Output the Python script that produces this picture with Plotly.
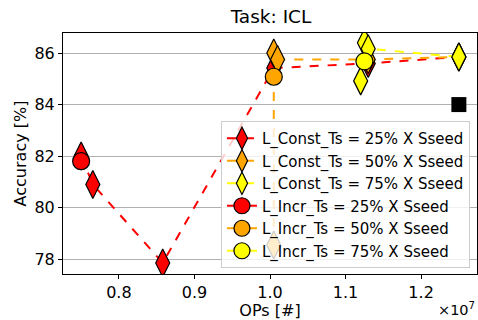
import plotly.graph_objects as go

# x in units of 1e7 OPs
const25_x = [0.75, 0.7655, 0.858, 1.005, 1.13, 1.25]
const25_y = [82.0, 80.9, 77.85, 85.42, 85.6, 85.85]
const50_x = [1.005, 1.005, 1.01, 1.13, 1.25]
const50_y = [78.55, 86.0, 85.75, 85.75, 85.85]
const75_x = [1.12, 1.125, 1.13, 1.25]
const75_y = [84.92, 86.4, 86.17, 85.85]
incr25_x = [0.75]
incr25_y = [81.8]
incr50_x = [1.005]
incr50_y = [85.08]
incr75_x = [1.125]
incr75_y = [85.68]
ref_x = [1.25]
ref_y = [84.0]

names_const = ["L_Const_Ts = 25% X Sseed", "L_Const_Ts = 50% X Sseed", "L_Const_Ts = 75% X Sseed"]
names_incr = ["L_Incr_Ts = 25% X Sseed", "L_Incr_Ts = 50% X Sseed", "L_Incr_Ts = 75% X Sseed"]
colors = ["#ff0000", "#ffa500", "#ffff00"]

fig = go.Figure()
for i, (xs, ys) in enumerate([(const25_x, const25_y), (const50_x, const50_y), (const75_x, const75_y)]):
    fig.add_trace(go.Scatter(x=xs, y=ys, mode="lines+markers", name=names_const[i],
                             legendgroup="c%d" % i,
                             line=dict(color=colors[i], dash="dash", width=2),
                             marker=dict(symbol="diamond-tall", size=20, color=colors[i],
                                         line=dict(color="black", width=1.2))))
for i, (xs, ys) in enumerate([(incr25_x, incr25_y), (incr50_x, incr50_y), (incr75_x, incr75_y)]):
    fig.add_trace(go.Scatter(x=xs, y=ys, mode="lines+markers", name=names_incr[i],
                             legendgroup="i%d" % i,
                             line=dict(color=colors[i], width=2),
                             marker=dict(symbol="circle", size=17, color=colors[i],
                                         line=dict(color="black", width=1.2))))
fig.add_trace(go.Scatter(x=ref_x, y=ref_y, mode="markers", showlegend=False,
                         marker=dict(symbol="square", size=15, color="black")))

fs = 16
fig.update_layout(
    width=478, height=320,
    margin=dict(l=63, r=1, t=33, b=46),
    plot_bgcolor="white", paper_bgcolor="white",
    font=dict(family="DejaVu Sans", size=fs, color="black"),
    title=dict(text="Task: ICL", x=271 / 478, xanchor="center", y=1 - 17 / 320, yanchor="middle",
               font=dict(size=18.5)),
    xaxis=dict(range=[0.726, 1.274], tickvals=[0.8, 0.9, 1.0, 1.1, 1.2],
               ticktext=["0.8", "0.9", "1.0", "1.1", "1.2"], tickfont=dict(size=fs),
               ticks="outside", ticklen=4, tickcolor="black", showgrid=False,
               showline=True, linecolor="black", mirror=True, zeroline=False,
               title=dict(text="OPs [#]", standoff=1, font=dict(size=fs))),
    yaxis=dict(range=[77.42, 86.78], tickvals=[78, 80, 82, 84, 86], tickfont=dict(size=fs),
               ticks="outside", ticklen=4, tickcolor="black", showgrid=True,
               gridcolor="#b0b0b0", gridwidth=1,
               showline=True, linecolor="black", mirror=True, zeroline=False,
               title=dict(text="Accuracy [%]", standoff=3, font=dict(size=fs))),
    legend=dict(x=0.983, y=0.025, xanchor="right", yanchor="bottom",
                bgcolor="rgba(255,255,255,0.8)", bordercolor="#cccccc", borderwidth=1,
                font=dict(size=15), tracegroupgap=0),
    annotations=[dict(text="×10<sup>7</sup>", xref="paper", yref="paper", x=1.0, y=-0.1,
                      xanchor="right", yanchor="top", showarrow=False, font=dict(size=14.5))],
)

fig.write_html("out.html")
